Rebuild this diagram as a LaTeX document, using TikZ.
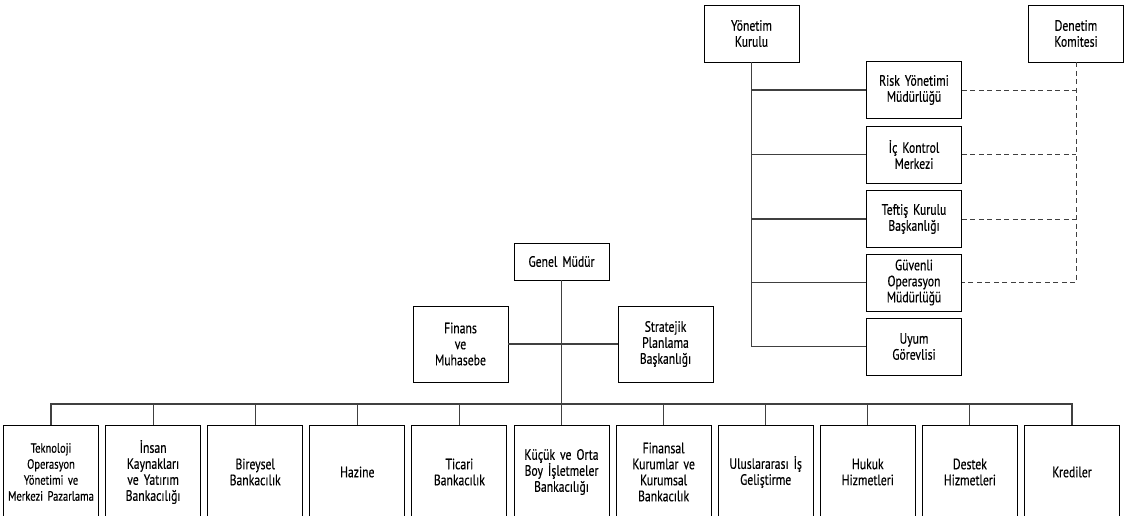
\documentclass[tikz,border=0pt]{standalone}
\usepackage{fontspec}
\setmainfont{PT Sans}[FakeStretch=0.78,FakeBold=0.35,WordSpace=0.6]
\begin{document}
\begin{tikzpicture}[x=1pt,y=-1pt,
  box/.style={draw=black,line width=0.9pt,rectangle,align=center,inner sep=1pt,
    font=\fontsize{15}{16}\selectfont,minimum width=95pt,text width=93pt},
  small/.style={minimum height=57pt},
  bot/.style={box,minimum height=94pt},
  conn/.style={draw=black!75,line width=1.1pt},
  dashline/.style={draw=black!75,line width=1pt,dash pattern=on 5pt off 3.5pt}]
\useasboundingbox (0,0) rectangle (1135,515);
\clip (0,0) rectangle (1135,515);
% top right
\node[box,small] (yk) at (751.5,33.5) {Yönetim\\Kurulu};
\node[box,small] (dk) at (1076,33.5) {Denetim\\Komitesi};
\node[box,small] (risk) at (914,90) {Risk Yönetimi\\Müdürlüğü};
\node[box,small] (ick) at (914,154.5) {İç Kontrol\\Merkezi};
\node[box,small] (tkb) at (914,219) {Teftiş Kurulu\\Başkanlığı};
\node[box,small] (gom) at (914,282.5) {Güvenli\\Operasyon\\Müdürlüğü};
\node[box,small] (uyum) at (914,346.5) {Uyum\\Görevlisi};
\draw[conn] (yk.south) -- (yk.south |- uyum.west) -- (uyum.west);
\foreach \n in {risk,ick,tkb,gom} \draw[conn] (yk.south |- \n.west) -- (\n.west);
\draw[dashline] (dk.south) -- (dk.south |- gom.east) -- (gom.east);
\foreach \n in {risk,ick,tkb} \draw[dashline] (\n.east) -- (\n.east -| dk.south);
% general manager
\node[box,minimum height=37pt] (gm) at (561.5,261.5) {Genel Müdür};
\node[box,minimum height=76pt] (fin) at (460.5,344) {Finans\\ve\\Muhasebe};
\node[box,minimum height=76pt] (spb) at (665.5,344) {Stratejik\\Planlama\\Başkanlığı};
\draw[conn] (fin.east) -- (spb.west);
% bottom row
\node[bot,font=\fontsize{13.5}{16}\selectfont] (b1) at (51,472) {Teknoloji\\Operasyon\\Yönetimi ve\\Merkezi Pazarlama};
\node[bot] (b2) at (153.1,472) {İnsan\\Kaynakları\\ve Yatırım\\Bankacılığı};
\node[bot] (b3) at (255.2,472) {Bireysel\\Bankacılık};
\node[bot] (b4) at (357.3,472) {Hazine};
\node[bot] (b5) at (459.4,472) {Ticari\\Bankacılık};
\node[bot] (b6) at (561.5,472) {Küçük ve Orta\\Boy İşletmeler\\Bankacılığı};
\node[bot] (b7) at (663.6,472) {Finansal\\Kurumlar ve\\Kurumsal\\Bankacılık};
\node[bot] (b8) at (765.7,472) {Uluslararası İş\\Geliştirme};
\node[bot] (b9) at (867.8,472) {Hukuk\\Hizmetleri};
\node[bot] (b10) at (969.9,472) {Destek\\Hizmetleri};
\node[bot] (b11) at (1072,472) {Krediler};
\coordinate (bus) at (0,404);
\draw[conn] (gm.south) -- (b6.north);
\draw[conn] (b1.north) -- (b1.north |- bus) -- (b11.north |- bus) -- (b11.north);
\foreach \n in {b2,b3,b4,b5,b7,b8,b9,b10} \draw[conn] (\n.north |- bus) -- (\n.north);
\end{tikzpicture}
\end{document}
